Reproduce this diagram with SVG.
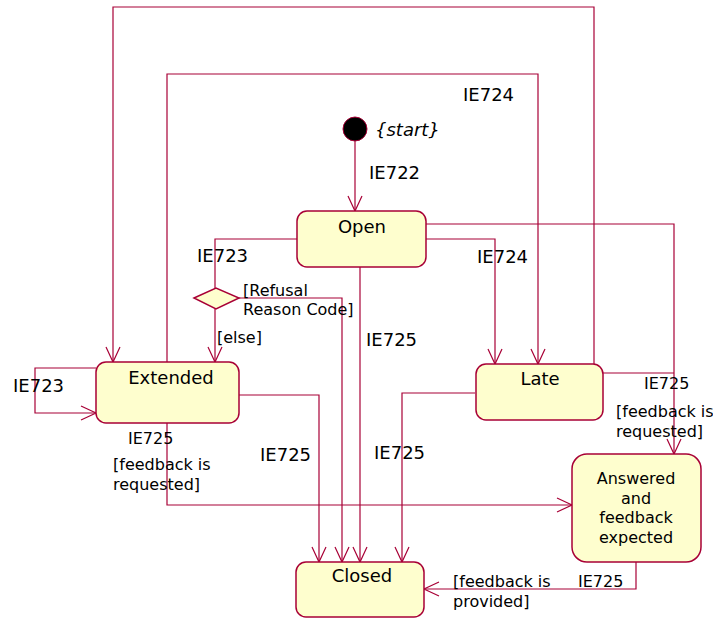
<svg xmlns="http://www.w3.org/2000/svg" width="713" height="619" viewBox="0 0 713 619">
<style>
.st{fill:#FEFECE;stroke:#A80036;stroke-width:1.5}
.c{fill:none;stroke:#A80036;stroke-width:1.2}
text{font-family:"DejaVu Sans","Verdana",sans-serif;fill:#000}
.n{font-size:18px;text-anchor:middle}
.l{font-size:18px}
.s{font-size:16px}
.a{font-size:16px;text-anchor:middle}
</style>
<defs>
<marker id="arr" markerUnits="userSpaceOnUse" markerWidth="20" markerHeight="20" refX="15" refY="7" orient="auto" overflow="visible">
<path d="M0,0 L15,7 L0,14" fill="none" stroke="#A80036" stroke-width="1.2"/>
</marker>
</defs>
<rect width="713" height="619" fill="#fff"/>
<g id="connectors">
<path class="c" d="M355,141 V211" marker-end="url(#arr)"/>
<path class="c" d="M297,239 H215 V288"/>
<path class="c" d="M215,309 V362" marker-end="url(#arr)"/>
<path class="c" d="M239,298 H342 V562" marker-end="url(#arr)"/>
<path class="c" d="M360,267 V562" marker-end="url(#arr)"/>
<path class="c" d="M426,239 H495 V364" marker-end="url(#arr)"/>
<path class="c" d="M426,224 H674 V454" marker-end="url(#arr)"/>
<path class="c" d="M603,373 H674"/>
<path class="c" d="M475,393 H402 V562" marker-end="url(#arr)"/>
<path class="c" d="M239,395 H319 V562" marker-end="url(#arr)"/>
<path class="c" d="M167,423 V505 H572" marker-end="url(#arr)"/>
<path class="c" d="M636,562 V589 H424" marker-end="url(#arr)"/>
<path class="c" d="M96,368 H35 V413 H96" marker-end="url(#arr)"/>
<path class="c" d="M167,362 V74 H538 V364" marker-end="url(#arr)"/>
<path class="c" d="M594,364 V7 H113 V362" marker-end="url(#arr)"/>
</g>
<g id="labels">
<text class="l" x="369" y="179">IE722</text>
<text class="l" x="463" y="101">IE724</text>
<text class="l" x="197" y="262">IE723</text>
<text class="s" x="243" y="296">[Refusal</text>
<text class="s" x="243" y="315">Reason Code]</text>
<text class="s" x="217" y="343">[else]</text>
<text class="l" x="477" y="263">IE724</text>
<text class="l" x="366" y="346">IE725</text>
<text class="l" x="13" y="392">IE723</text>
<text class="s" x="644" y="389">IE725</text>
<text class="s" x="616" y="417">[feedback is</text>
<text class="s" x="616" y="437">requested]</text>
<text class="s" x="128" y="444">IE725</text>
<text class="s" x="113" y="470">[feedback is</text>
<text class="s" x="113" y="490">requested]</text>
<text class="l" x="260" y="461">IE725</text>
<text class="l" x="374" y="459">IE725</text>
<text class="s" x="453" y="587">[feedback is</text>
<text class="s" x="453" y="607">provided]</text>
<text class="s" x="578" y="587">IE725</text>
</g>
<g id="start">
<circle cx="355" cy="129" r="12" fill="#000" stroke="#A80036" stroke-width="1"/>
<text class="l" x="375" y="136" font-style="italic">{start}</text>
</g>
<g id="decision">
<polygon class="st" points="194,298 216,288 239,298 216,309"/>
</g>
<g id="open">
<rect class="st" x="297" y="211" width="129" height="56" rx="10"/>
<text class="n" x="362" y="233">Open</text>
</g>
<g id="extended">
<rect class="st" x="96" y="362" width="143" height="61" rx="10"/>
<text class="n" x="171" y="384">Extended</text>
</g>
<g id="late">
<rect class="st" x="476" y="364" width="127" height="56" rx="10"/>
<text class="n" x="540" y="385">Late</text>
</g>
<g id="answered">
<rect class="st" x="572" y="454" width="129" height="108" rx="15"/>
<text class="a" x="636" y="484">Answered</text>
<text class="a" x="636" y="504">and</text>
<text class="a" x="636" y="523">feedback</text>
<text class="a" x="636" y="543">expected</text>
</g>
<g id="closed">
<rect class="st" x="296" y="562" width="128" height="55" rx="10"/>
<text class="n" x="362" y="582">Closed</text>
</g>
</svg>
